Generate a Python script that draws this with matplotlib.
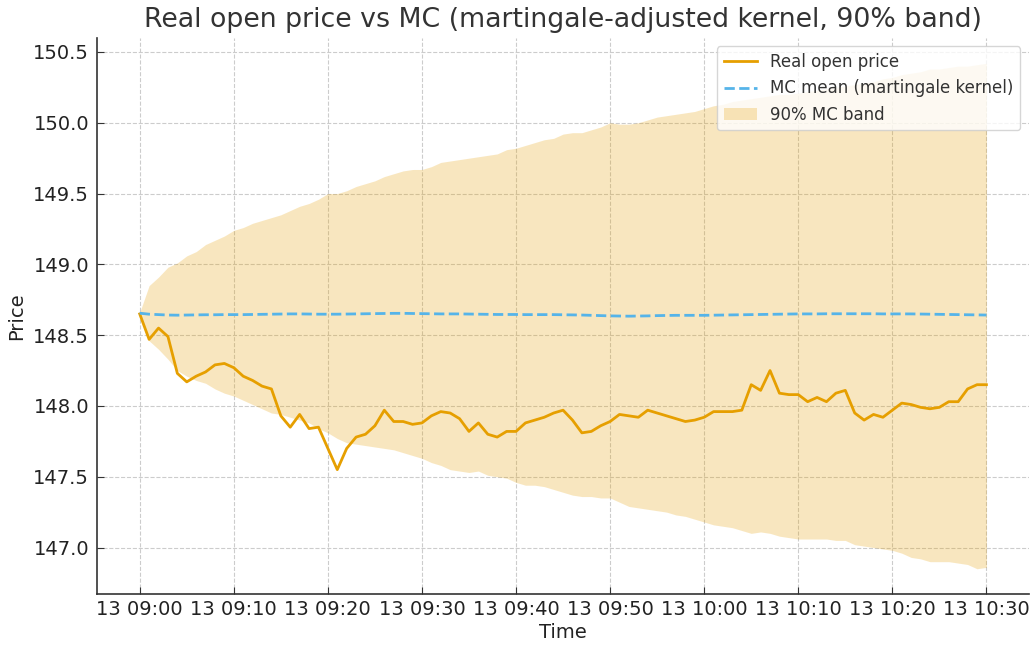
import matplotlib
matplotlib.use("Agg")
import matplotlib.pyplot as plt
import matplotlib.dates as mdates
import numpy as np
import pandas as pd

start_time = "2024-03-13 09:00"
n_minutes = 91

real_open = [
    148.65, 148.47, 148.55, 148.49, 148.23, 148.17, 148.21, 148.24, 148.29, 148.30,
    148.27, 148.21, 148.18, 148.14, 148.12, 147.93, 147.85, 147.94, 147.84, 147.85,
    147.70, 147.55, 147.70, 147.78, 147.80, 147.86, 147.97, 147.89, 147.89, 147.87,
    147.88, 147.93, 147.96, 147.95, 147.91, 147.82, 147.88, 147.80, 147.78, 147.82,
    147.82, 147.88, 147.90, 147.92, 147.95, 147.97, 147.90, 147.81, 147.82, 147.86,
    147.89, 147.94, 147.93, 147.92, 147.97, 147.95, 147.93, 147.91, 147.89, 147.90,
    147.92, 147.96, 147.96, 147.96, 147.97, 148.15, 148.11, 148.25, 148.09, 148.08,
    148.08, 148.03, 148.06, 148.03, 148.09, 148.11, 147.95, 147.90, 147.94, 147.92,
    147.97, 148.02, 148.01, 147.99, 147.98, 147.99, 148.03, 148.03, 148.12, 148.15,
    148.15,
]

mc_mean = [
    148.655, 148.648, 148.645, 148.642, 148.641, 148.642, 148.643, 148.644, 148.644, 148.645,
    148.645, 148.645, 148.646, 148.647, 148.648, 148.649, 148.650, 148.650, 148.649, 148.648,
    148.648, 148.648, 148.649, 148.650, 148.651, 148.652, 148.653, 148.654, 148.654, 148.653,
    148.652, 148.651, 148.650, 148.650, 148.650, 148.649, 148.648, 148.647, 148.646, 148.646,
    148.646, 148.645, 148.645, 148.645, 148.645, 148.644, 148.643, 148.642, 148.640, 148.638,
    148.636, 148.635, 148.634, 148.635, 148.636, 148.638, 148.639, 148.640, 148.640, 148.640,
    148.640, 148.641, 148.642, 148.643, 148.644, 148.645, 148.646, 148.647, 148.648, 148.649,
    148.650, 148.650, 148.650, 148.651, 148.651, 148.651, 148.651, 148.651, 148.651, 148.650,
    148.650, 148.650, 148.650, 148.649, 148.648, 148.647, 148.646, 148.645, 148.644, 148.643,
    148.642,
]

band_upper = [
    148.66, 148.85, 148.91, 148.98, 149.01, 149.06, 149.09, 149.14, 149.17, 149.20,
    149.24, 149.26, 149.29, 149.31, 149.33, 149.35, 149.38, 149.41, 149.43, 149.46,
    149.50, 149.50, 149.52, 149.55, 149.57, 149.59, 149.62, 149.64, 149.66, 149.67,
    149.67, 149.69, 149.72, 149.73, 149.74, 149.75, 149.76, 149.77, 149.78, 149.81,
    149.82, 149.84, 149.86, 149.88, 149.89, 149.92, 149.93, 149.93, 149.95, 149.97,
    150.00, 149.99, 149.99, 150.00, 150.02, 150.04, 150.05, 150.06, 150.07, 150.08,
    150.10, 150.12, 150.13, 150.15, 150.16, 150.17, 150.18, 150.19, 150.20, 150.20,
    150.21, 150.22, 150.23, 150.24, 150.25, 150.26, 150.27, 150.28, 150.29, 150.31,
    150.32, 150.34, 150.35, 150.36, 150.38, 150.38, 150.39, 150.40, 150.40, 150.41,
    150.42,
]

band_lower = [
    148.65, 148.46, 148.40, 148.33, 148.25, 148.21, 148.18, 148.16, 148.12, 148.09,
    148.07, 148.04, 148.01, 147.98, 147.95, 147.94, 147.92, 147.90, 147.88, 147.84,
    147.81, 147.77, 147.74, 147.73, 147.72, 147.71, 147.70, 147.69, 147.67, 147.65,
    147.63, 147.60, 147.58, 147.55, 147.54, 147.53, 147.54, 147.51, 147.50, 147.49,
    147.46, 147.44, 147.44, 147.43, 147.41, 147.39, 147.37, 147.36, 147.36, 147.35,
    147.35, 147.32, 147.29, 147.28, 147.27, 147.26, 147.25, 147.23, 147.22, 147.20,
    147.18, 147.16, 147.15, 147.14, 147.12, 147.10, 147.11, 147.10, 147.08, 147.07,
    147.06, 147.06, 147.06, 147.06, 147.05, 147.05, 147.02, 147.01, 147.00, 146.99,
    146.98, 146.96, 146.93, 146.92, 146.90, 146.90, 146.90, 146.89, 146.88, 146.85,
    146.86,
]

times = pd.date_range(start_time, periods=n_minutes, freq="1min")

text_color = "#333333"
plt.rcParams["font.family"] = ["DejaVu Sans"]

fig = plt.figure(figsize=(10.36, 6.49), dpi=100)
ax = fig.add_axes([0.094, 0.0847, 0.899, 0.8567])

ax.fill_between(times, band_lower, band_upper, color="#E69F00", alpha=0.25,
                linewidth=0, label="90% MC band")
ax.plot(times, real_open, color="#E69F00", linewidth=2, label="Real open price")
ax.plot(times, mc_mean, color="#56B4E9", linewidth=2, linestyle="--",
        label="MC mean (martingale kernel)")

ax.xaxis.set_major_locator(mdates.MinuteLocator(byminute=[0, 10, 20, 30, 40, 50]))
ax.xaxis.set_major_formatter(mdates.DateFormatter("%d %H:%M"))

ax.grid(True, linestyle="--", color="#cccccc", linewidth=0.8)
ax.set_axisbelow(True)
for s in ["top", "right"]:
    ax.spines[s].set_visible(False)
for s in ["left", "bottom"]:
    ax.spines[s].set_color("#333333")
    ax.spines[s].set_linewidth(1.2)

ax.tick_params(axis="both", direction="in", length=5, labelsize=14,
               labelcolor="#222222", color="#333333")
ax.tick_params(axis="x", pad=4.5)
ax.tick_params(axis="y", pad=6)

ax.set_title("Real open price vs MC (martingale-adjusted kernel, 90% band)",
             fontsize=19.3, color=text_color, pad=8)
ax.set_xlabel("Time", fontsize=14, color="#222222", labelpad=3)
ax.set_ylabel("Price", fontsize=14, color="#222222", labelpad=5)

handles, labels = ax.get_legend_handles_labels()
order = [1, 2, 0]
leg = ax.legend([handles[i] for i in order], [labels[i] for i in order],
                loc="upper right", fontsize=12, framealpha=0.8)
for t in leg.get_texts():
    t.set_color(text_color)

fig.savefig("out.png", dpi=100)
